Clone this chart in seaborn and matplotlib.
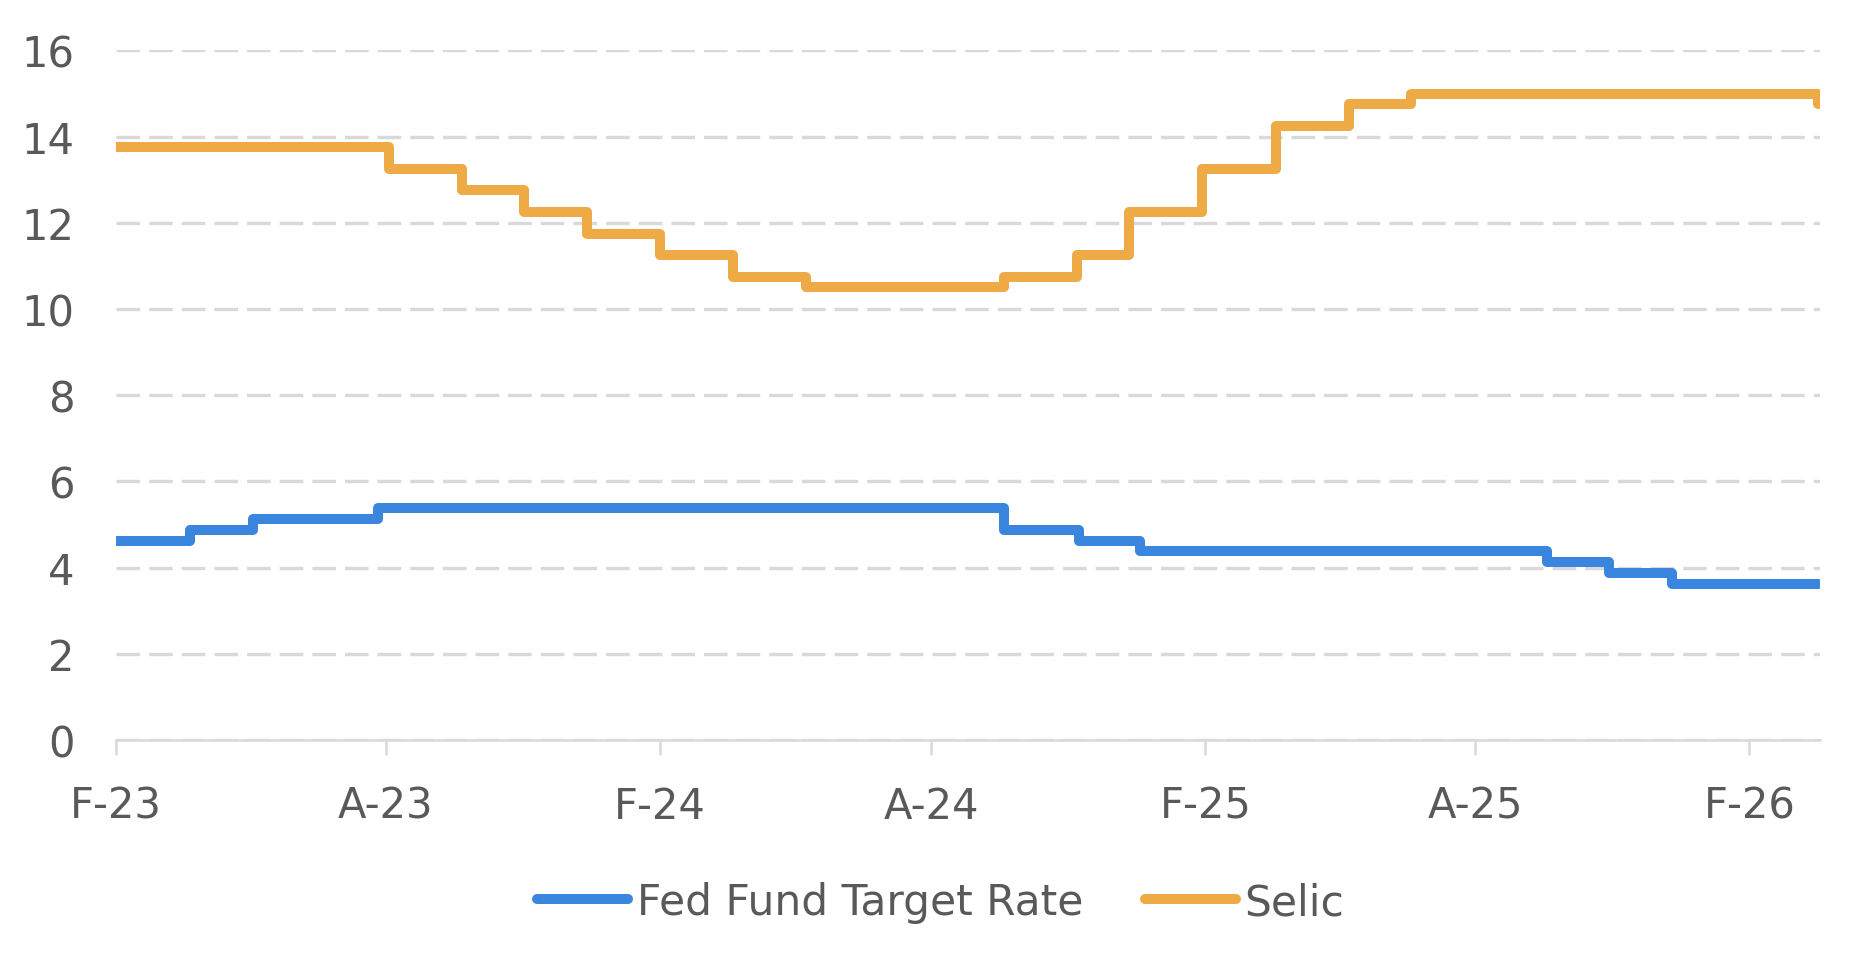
import matplotlib.pyplot as plt
import pandas as pd
import seaborn as sns

sns.set_theme(style="white")
plt.rcParams['font.family'] = ['DejaVu Sans']
plt.rcParams['lines.scale_dashes'] = False

# Fed funds target (mid-point of the range), dates of change + last day
fed_dates = ['2023-02-01', '2023-03-23', '2023-05-04', '2023-07-27', '2024-09-19',
             '2024-11-08', '2024-12-19', '2025-09-18', '2025-10-30', '2025-12-11', '2026-03-19']
fed_rates = [4.625, 4.875, 5.125, 5.375, 4.875, 4.625, 4.375, 4.125, 3.875, 3.625, 3.625]

# Selic, dates of change + last day
selic_dates = ['2023-02-01', '2023-08-03', '2023-09-21', '2023-11-02', '2023-12-14', '2024-02-01',
               '2024-03-21', '2024-05-09', '2024-09-19', '2024-11-07', '2024-12-12', '2025-01-30',
               '2025-03-20', '2025-05-08', '2025-06-19', '2026-03-19', '2026-03-20']
selic_rates = [13.75, 13.25, 12.75, 12.25, 11.75, 11.25, 10.75, 10.50, 10.75, 11.25, 12.25,
               13.25, 14.25, 14.75, 15.00, 14.75, 14.75]

tick_dates = ['2023-02-01', '2023-08-01', '2024-02-01', '2024-08-01', '2025-02-01', '2025-08-01', '2026-02-01']
tick_labels = ['F-23', 'A-23', 'F-24', 'A-24', 'F-25', 'A-25', 'F-26']

df = pd.concat([
    pd.DataFrame({'data': pd.to_datetime(fed_dates), 'taxa': fed_rates, 'serie': 'Fed Fund Target Rate'}),
    pd.DataFrame({'data': pd.to_datetime(selic_dates), 'taxa': selic_rates, 'serie': 'Selic'}),
])

text_color = '#595959'
grid_color = '#D9D9D9'

fig = plt.figure(figsize=(18.7, 9.7), dpi=100)
ax = fig.add_axes([0.062, 0.236, 0.911, 0.711])

sns.lineplot(ax=ax, data=df, x='data', y='taxa', hue='serie',
             palette=['#3A85DE', '#EEAA45'], drawstyle='steps-post',
             linewidth=7.2, solid_capstyle='round', solid_joinstyle='round')

ax.set_ylim(0, 16)
ax.set_yticks(range(0, 17, 2))
ax.set_xlim(pd.Timestamp('2023-02-01'), pd.Timestamp('2026-03-20'))
ax.set_xticks(pd.to_datetime(tick_dates))
ax.set_xticklabels(tick_labels)
ax.set(xlabel='', ylabel='')

ax.grid(axis='y', color=grid_color, linewidth=2.4, linestyle=(0, (17, 6.5)))
ax.set_axisbelow(True)
for s in ['top', 'right', 'left']:
    ax.spines[s].set_visible(False)
ax.spines['bottom'].set_color(grid_color)
ax.spines['bottom'].set_linewidth(1.8)

ax.tick_params(axis='x', length=11, width=1.8, color=grid_color, direction='out',
               pad=21, labelsize=30, labelcolor=text_color, bottom=True)
ax.tick_params(axis='y', length=0, pad=30, labelsize=30, labelcolor=text_color)

handles, labels = ax.get_legend_handles_labels()
ax.legend(handles, labels, loc='center', bbox_to_anchor=(0.503, 0.069),
          bbox_transform=fig.transFigure, ncol=2, frameon=False, fontsize=30.5,
          handlelength=2.15, handletextpad=0.2, columnspacing=1.45, labelcolor=text_color)

fig.savefig('out.png', dpi=100)
